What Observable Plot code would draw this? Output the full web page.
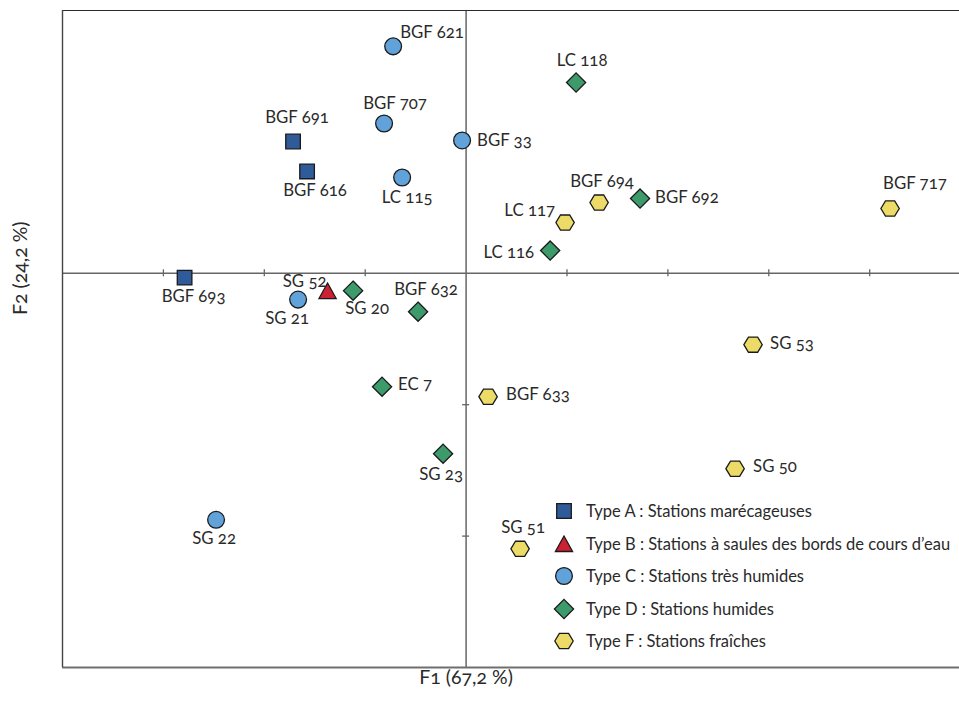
<!DOCTYPE html>
<html>
<head>
<meta charset="utf-8">
<script src="https://cdn.jsdelivr.net/npm/d3@7"></script>
<script src="https://cdn.jsdelivr.net/npm/@observablehq/plot@0.6"></script>
<style>
  html, body { margin: 0; padding: 0; background: #fff; overflow: hidden; }
  #wrap { position: relative; width: 959px; height: 711px; overflow: hidden; }
  #wrap svg text { font-variant-numeric: oldstyle-nums; }
  #legend { position: absolute; left: 553px; top: 495px; font-family: Lato, "Open Sans", sans-serif; font-size: 16.5px; color: #2a2a2a; white-space: nowrap; }
  #legend .row { height: 32.5px; display: flex; align-items: center; }
  #legend svg { width: 22px; height: 22px; margin-right: 11px; overflow: visible; }
</style>
</head>
<body>
<div id="wrap"></div>
<script>
// ---- data ----
const stations = ["BGF 691","BGF 616","BGF 693","SG 52","BGF 621","BGF 707","BGF 33","LC 115","SG 21","SG 22",
  "LC 118","BGF 692","LC 116","SG 20","BGF 632","EC 7","SG 23",
  "BGF 694","LC 117","BGF 717","SG 53","BGF 633","SG 50","SG 51"];
const f1 = [-1.715,-1.576,-2.790,-1.373,-0.723,-0.813,-0.040,-0.634,-1.665,-2.478,
  1.090,1.724,0.833,-1.120,-0.476,-0.833,-0.228,
  1.318,0.981,4.202,2.844,0.218,2.666,0.535];
const f2 = [1.003,0.775,-0.033,-0.135,1.727,1.140,1.011,0.729,-0.200,-1.876,
  1.452,0.569,0.173,-0.132,-0.292,-0.863,-1.373,
  0.538,0.386,0.493,-0.543,-0.939,-1.487,-2.097];
const stationType = ["A","A","A","B","C","C","C","C","C","C",
  "D","D","D","D","D","D","D",
  "F","F","F","F","F","F","F"];
const typeCodes = ["A","B","C","D","F"];
const typeLabels = ["Type A : Stations marécageuses",
  "Type B : Stations à saules des bords de cours d\u2019eau",
  "Type C : Stations très humides",
  "Type D : Stations humides",
  "Type F : Stations fraîches"];
const xTicks = [-3,-2,-1,1,2,3,4];
const yTicks = [-1,-2];
const xTitle = "F1 (67,2 %)";
const yTitle = "F2 (24,2 %)";

// ---- styles / layout ----
const typeColors = ["#2f5b98","#cc2033","#62a2da","#3d9a6b","#ecdc67"];
const labelOffset = {
  "BGF 691":[4,-24,"middle"], "BGF 616":[8,19,"middle"], "BGF 693":[9,19,"middle"],
  "SG 52":[-1,-9,"end"], "BGF 621":[7,-14,"start"], "BGF 707":[11,-20,"middle"],
  "BGF 33":[15,0,"start"], "LC 115":[5,20,"middle"], "SG 21":[-11,19,"middle"],
  "SG 22":[-2,19,"middle"], "LC 118":[6,-22,"middle"], "BGF 692":[15,-1,"start"],
  "LC 116":[-16,2,"end"], "SG 20":[14,18,"middle"], "BGF 632":[8,-22,"middle"],
  "EC 7":[16,-2,"start"], "SG 23":[-2,21,"middle"], "BGF 694":[3,-21,"middle"],
  "LC 117":[-10,-12,"end"], "BGF 717":[-7,-25,"start"], "SG 53":[17,-1,"start"],
  "BGF 633":[18,-2,"start"], "SG 50":[18,-2,"start"], "SG 51":[3,-21,"middle"]
};

const symSquare = {draw(c){ c.rect(-7.3,-7.3,14.6,14.6); }};
const symTriangle = {draw(c){ c.moveTo(0,-8); c.lineTo(8.6,7.5); c.lineTo(-8.6,7.5); c.closePath(); }};
const symCircle = {draw(c){ c.moveTo(8.4,0); c.arc(0,0,8.4,0,2*Math.PI); }};
const symDiamond = {draw(c){ const r=9.6; c.moveTo(0,-r); c.lineTo(r,0); c.lineTo(0,r); c.lineTo(-r,0); c.closePath(); }};
const symHex = {draw(c){ const w=9.2,h=7.6; c.moveTo(-w,0); c.lineTo(-w/2,-h); c.lineTo(w/2,-h); c.lineTo(w,0); c.lineTo(w/2,h); c.lineTo(-w/2,h); c.closePath(); }};
const typeSymbols = [symSquare, symTriangle, symCircle, symDiamond, symHex];

const data = stations.map((s,i) => ({name: s, f1: f1[i], f2: f2[i], type: stationType[i]}));

const axisColor = "#666";
const textColor = "#2a2a2a";

const labelMarks = data.map(d => {
  const [dx, dy, anchor] = labelOffset[d.name];
  return Plot.text([d], {x: "f1", y: "f2", text: "name", dx, dy, textAnchor: anchor,
    fill: textColor, fontSize: 16.8});
});

const chart = Plot.plot({
  width: 959, height: 711,
  marginLeft: 62, marginRight: 0, marginTop: 10, marginBottom: 44,
  style: {fontFamily: "Lato, 'Open Sans', sans-serif", background: "#fff", overflow: "visible"},
  x: {domain: [-4, 4.89], axis: null},
  y: {domain: [-3, 2], axis: null},
  symbol: {domain: typeCodes, range: typeSymbols},
  color: {domain: typeCodes, range: typeColors},
  marks: [
    Plot.ruleY([0], {stroke: axisColor, strokeWidth: 1.5}),
    Plot.ruleX([0], {stroke: axisColor, strokeWidth: 1.5}),
    Plot.ruleX(xTicks, {x: d => d, y1: 0, y2: 0, insetTop: -3.5, insetBottom: -3.5, stroke: axisColor, strokeWidth: 1.3}),
    Plot.ruleY(yTicks, {y: d => d, x1: 0, x2: 0, insetLeft: -3.5, insetRight: -3.5, stroke: axisColor, strokeWidth: 1.3}),
    Plot.ruleY([2], {stroke: "#2b2b2b", strokeWidth: 1.2}),
    Plot.ruleY([-3], {stroke: "#6e6e6e", strokeWidth: 2}),
    Plot.ruleX([-4], {stroke: "#444", strokeWidth: 1.4}),
    Plot.dot(data, {x: "f1", y: "f2", symbol: "type", fill: "type", stroke: "#1a1a1a", strokeWidth: 1.3}),
    ...labelMarks,
    Plot.text([0], {y: d => d, frameAnchor: "left", dx: -42, dy: -5, rotate: -90, textAnchor: "middle", lineAnchor: "middle",
      text: () => yTitle, fill: textColor, fontSize: 19.5}),
    Plot.text([0], {x: d => d, frameAnchor: "bottom", dy: 10, textAnchor: "middle", lineAnchor: "middle",
      text: () => xTitle, fill: textColor, fontSize: 19.5})
  ]
});

const wrap = document.getElementById("wrap");
wrap.appendChild(chart);

// legend
const legend = document.createElement("div");
legend.id = "legend";
typeCodes.forEach((t, i) => {
  const row = document.createElement("div");
  row.className = "row";
  const svg = d3.create("svg").attr("viewBox", "-11 -11 22 22");
  svg.append("path")
    .attr("d", d3.symbol(typeSymbols[i])())
    .attr("fill", typeColors[i])
    .attr("stroke", "#1a1a1a")
    .attr("stroke-width", 1.3);
  row.appendChild(svg.node());
  const span = document.createElement("span");
  span.textContent = typeLabels[i];
  row.appendChild(span);
  legend.appendChild(row);
});
wrap.appendChild(legend);
</script>
</body>
</html>
